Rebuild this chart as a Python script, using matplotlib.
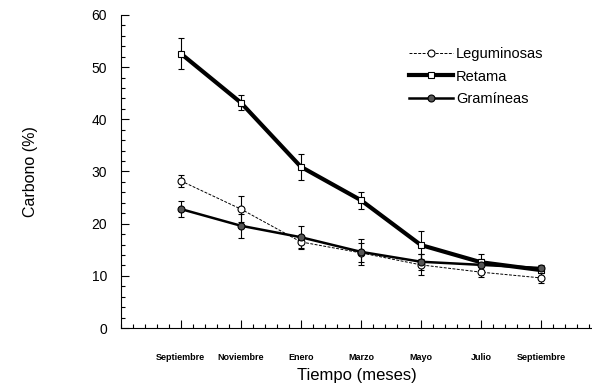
import matplotlib
matplotlib.use("Agg")
import matplotlib.pyplot as plt
from matplotlib.ticker import MultipleLocator

plt.rcParams['font.family'] = ['Liberation Sans', 'DejaVu Sans']

meses = ["Septiembre", "Noviembre", "Enero", "Marzo", "Mayo", "Julio", "Septiembre"]
x = [1, 2, 3, 4, 5, 6, 7]

leguminosas = [28.2, 22.8, 16.5, 14.4, 12.1, 10.7, 9.6]
leguminosas_err = [1.2, 2.5, 1.2, 1.8, 2.0, 1.0, 1.0]

retama = [52.6, 43.2, 30.9, 24.5, 15.9, 12.6, 11.1]
retama_err = [2.9, 1.5, 2.5, 1.6, 2.6, 1.5, 0.6]

gramineas = [22.8, 19.6, 17.4, 14.6, 12.7, 12.1, 11.5]
gramineas_err = [1.5, 2.3, 2.2, 2.5, 1.5, 1.2, 0.5]

fig = plt.figure(figsize=(5.92, 3.83), dpi=100)
ax = fig.add_axes([0.204, 0.1436, 0.796, 0.8174])

l1 = ax.errorbar(x, leguminosas, yerr=leguminosas_err, color="black", lw=0.7, ls=(0, (3, 1.5)),
                 marker="o", ms=5, mfc="white", mec="black", mew=0.8,
                 capsize=2.5, elinewidth=0.8)
l2 = ax.errorbar(x, retama, yerr=retama_err, color="black", lw=3,
                 marker="s", ms=5, mfc="white", mec="black", mew=0.8,
                 capsize=2.5, elinewidth=0.8)
l3 = ax.errorbar(x, gramineas, yerr=gramineas_err, color="black", lw=1.8,
                 marker="o", ms=5, mfc="#555555", mec="black", mew=0.8,
                 capsize=2.5, elinewidth=0.8)

ax.set_xlim(0, 7.85)
ax.set_ylim(0, 60)
ax.set_xticks(x)
ax.set_xticklabels(meses, fontsize=6.5, fontweight="bold")
ax.xaxis.set_minor_locator(MultipleLocator(0.2))
ax.yaxis.set_major_locator(MultipleLocator(10))
ax.yaxis.set_minor_locator(MultipleLocator(2))
ax.tick_params(axis="both", which="major", direction="in", length=6, width=0.8)
ax.tick_params(axis="both", which="minor", direction="in", length=3, width=0.8)
ax.tick_params(axis="x", pad=18)
ax.tick_params(axis="y", labelsize=10, pad=10)

for s in ["top", "right"]:
    ax.spines[s].set_visible(False)

ax.set_xlabel("Tiempo (meses)", fontsize=12, labelpad=4)
ax.set_ylabel("Carbono (%)", fontsize=11.5, labelpad=38)

ax.legend([l1[0], l2[0], l3[0]], ["Leguminosas", "Retama", "Gramíneas"],
          loc="upper right", bbox_to_anchor=(0.925, 0.94), frameon=False, fontsize=10.5,
          handlelength=3.0, labelspacing=0.6, handletextpad=0.2)

fig.savefig("out.png", dpi=100)
